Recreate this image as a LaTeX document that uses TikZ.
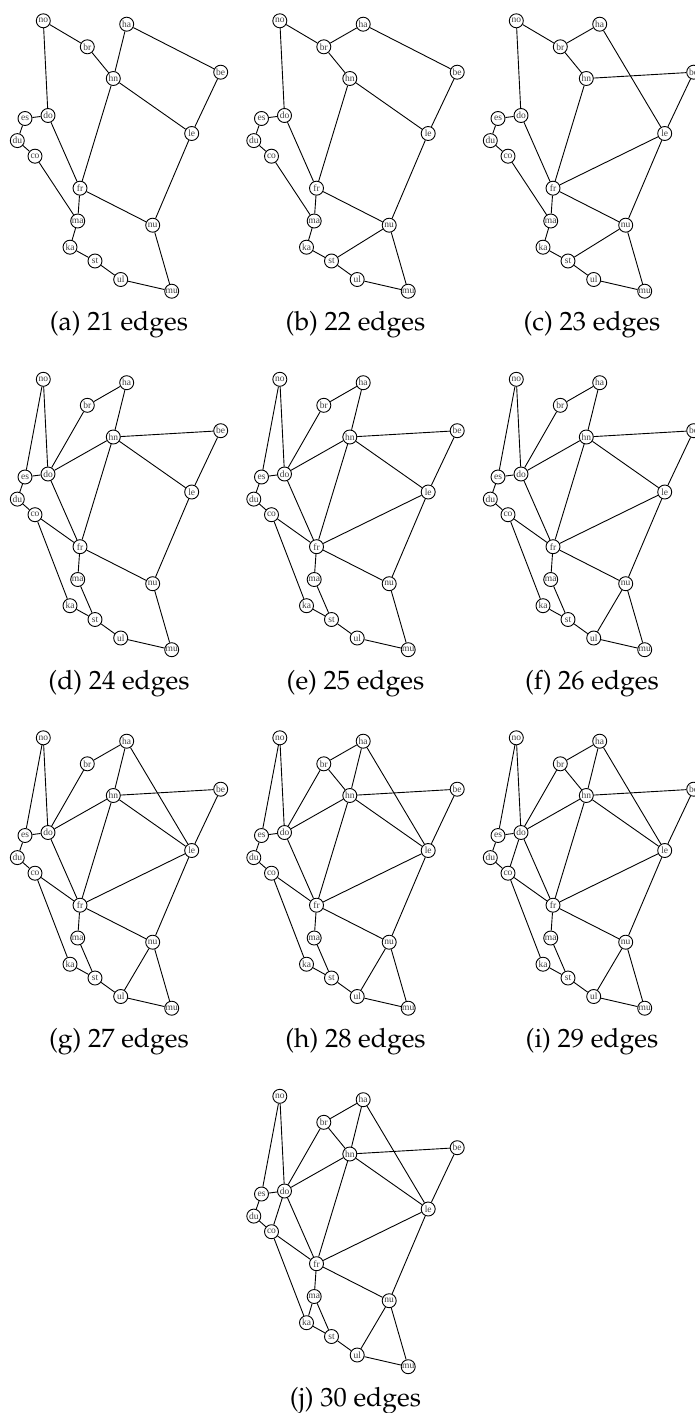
\documentclass[tikz,border=0pt]{standalone}
\usepackage{fontspec}
\newfontfamily\vtxfont{Liberation Serif}
\newcommand\capfont{\fontencoding{OT1}\fontfamily{ppl}\fontsize{26.5}{30}\selectfont}
\tikzset{
  vtx/.style={circle, draw=black, fill=white, line width=0.9pt, minimum size=14pt, inner sep=0pt,
    font=\vtxfont\fontsize{9.5}{10}\selectfont, text=black!75},
  conn/.style={draw=black, line width=0.9pt},
  captext/.style={font=\capfont, text=black, inner sep=0pt}
}
\newcommand\drawpanel[5]{%
  \begin{scope}[shift={(#1,#2)}]
    \foreach \n/\px/\py in {no/43.3/20.8, br/87.3/46.8, ha/126.7/24.2, hn/113.3/78.5, be/220.7/72.2,
      do/48/115.5, es/25/118.5, du/17.3/140.6, co/35/156.2, le/191.7/133.5, fr/80/188.2,
      ma/77.7/221, nu/152.7/225.2, ka/70/247.2, st/95/261, ul/120.7/279.5, mu/171.7/291.2}
      \node[vtx] (#3-\n) at (\px,\py) {\n};
    \foreach \u/\v in {#4}
      \draw[conn] (#3-\u) -- (#3-\v);
    \node[captext] (#3-cap) at (119,325) {#5};
  \end{scope}}
\begin{document}
\begin{tikzpicture}[x=1pt,y=-1pt]
\useasboundingbox (0,0) rectangle (695,1413);
\drawpanel{0}{0}{a}{no/br, no/do, br/hn, ha/hn, ha/be, hn/le, hn/fr, be/le, do/es, do/fr, es/du, du/co, co/ma, le/nu, fr/ma, fr/nu, ma/ka, ka/st, st/ul, ul/mu, nu/mu}{(a) 21 edges}
\drawpanel{236.5}{0}{b}{no/br, br/ha, br/hn, ha/be, hn/le, hn/fr, be/le, no/do, do/es, do/fr, es/du, du/co, co/ma, le/nu, fr/ma, fr/nu, ma/ka, ka/st, st/nu, st/ul, ul/mu, nu/mu}{(b) 22 edges}
\drawpanel{473}{0}{c}{no/br, br/ha, br/hn, ha/le, hn/be, hn/fr, be/le, no/do, do/es, do/fr, es/du, du/co, co/ma, le/fr, le/nu, fr/ma, fr/nu, ma/ka, ka/st, st/nu, st/ul, ul/mu, nu/mu}{(c) 23 edges}
\drawpanel{0}{358.5}{d}{no/es, no/do, br/ha, br/do, ha/hn, hn/be, hn/do, hn/le, hn/fr, be/le, es/do, es/du, du/co, co/fr, co/ka, do/fr, fr/ma, fr/nu, le/nu, ma/st, ka/st, st/ul, ul/mu, nu/mu}{(d) 24 edges}
\drawpanel{236.5}{358.5}{e}{no/es, no/do, br/ha, br/do, ha/hn, hn/be, hn/do, hn/le, hn/fr, be/le, es/do, es/du, du/co, co/fr, co/ka, do/fr, fr/ma, fr/nu, le/nu, ma/st, ka/st, st/ul, ul/mu, nu/mu, fr/le}{(e) 25 edges}
\drawpanel{473}{358.5}{f}{no/es, no/do, br/ha, br/do, ha/hn, hn/be, hn/do, hn/le, hn/fr, be/le, es/do, es/du, du/co, co/fr, co/ka, do/fr, fr/ma, fr/nu, le/nu, ma/st, ka/st, st/ul, ul/mu, nu/mu, fr/le, ul/nu}{(f) 26 edges}
\drawpanel{0}{717}{g}{no/es, no/do, br/ha, br/do, ha/hn, hn/be, hn/do, hn/le, hn/fr, be/le, es/do, es/du, du/co, co/fr, co/ka, do/fr, fr/ma, fr/nu, le/nu, ma/st, ka/st, st/ul, ul/mu, nu/mu, fr/le, ul/nu, ha/le}{(g) 27 edges}
\drawpanel{236.5}{717}{h}{no/es, no/do, br/ha, br/do, ha/hn, hn/be, hn/do, hn/le, hn/fr, be/le, es/do, es/du, du/co, co/fr, co/ka, do/fr, fr/ma, fr/nu, le/nu, ma/st, ka/st, st/ul, ul/mu, nu/mu, fr/le, ul/nu, ha/le, br/hn}{(h) 28 edges}
\drawpanel{473}{717}{i}{no/es, no/do, br/ha, br/do, ha/hn, hn/be, hn/do, hn/le, hn/fr, be/le, es/do, es/du, du/co, co/fr, co/ka, do/fr, fr/ma, fr/nu, le/nu, ma/st, ka/st, st/ul, ul/mu, nu/mu, fr/le, ul/nu, ha/le, br/hn, do/co}{(i) 29 edges}
\drawpanel{236.5}{1075.5}{j}{no/es, no/do, br/ha, br/do, ha/hn, hn/be, hn/do, hn/le, hn/fr, be/le, es/do, es/du, du/co, co/fr, co/ka, do/fr, fr/ma, fr/nu, le/nu, ma/st, ka/st, st/ul, ul/mu, nu/mu, fr/le, ul/nu, ha/le, br/hn, do/co, ma/ka}{(j) 30 edges}
\end{tikzpicture}
\end{document}
